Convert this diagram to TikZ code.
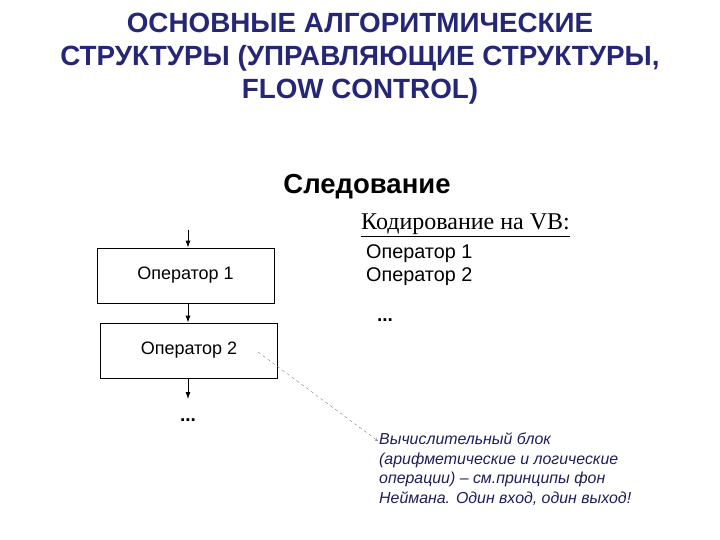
\documentclass[tikz,border=0pt]{standalone}
\usepackage{fontspec}
\setmainfont{Liberation Serif}
\setsansfont{Liberation Sans}
\usetikzlibrary{positioning,arrows.meta}
\definecolor{titleblue}{RGB}{38,38,118}
\definecolor{noteblue}{RGB}{30,30,90}
\tikzset{
  opbox/.style={draw,thick,minimum width=177pt,minimum height=55pt,font=\sffamily\fontsize{18}{20}\selectfont},
  flow/.style={-{Latex[length=7pt,width=5pt]},thick}
}

\begin{document}
\begin{tikzpicture}[x=1pt,y=-1pt]
\useasboundingbox (0,0) rectangle (720,540);
\node[align=center,text=titleblue,font=\sffamily\bfseries\fontsize{27.8}{33}\selectfont] (title) at (360,59)
  {ОСНОВНЫЕ АЛГОРИТМИЧЕСКИЕ\\СТРУКТУРЫ (УПРАВЛЯЮЩИЕ СТРУКТУРЫ,\\FLOW CONTROL)};
\node[font=\sffamily\bfseries\fontsize{27.5}{30}\selectfont] (seq) at (367,187) {Следование};
\node[font=\fontsize{24}{27}\selectfont,anchor=west,inner sep=0] (vb) at (361,225) {\underline{Кодирование на VB:}};
\node[font=\sffamily\fontsize{19.8}{23}\selectfont,align=left,anchor=north west,inner sep=0] (code) at (366,244)
  {Оператор 1\\Оператор 2};
\node[font=\sffamily\bfseries\fontsize{19}{20}\selectfont] (vbdots) at (385,320) {...};

\node[opbox] (op1) at (185.5,275.5) {Оператор 1};
\node[opbox] (op2) at (189,350.5) {Оператор 2};
\node[font=\sffamily\bfseries\fontsize{19}{20}\selectfont] (dots) at (188,420) {...};
\coordinate (in) at (188,230);
\coordinate (out) at (188,399);
\draw[flow] (in) -- (in |- op1.north);
\draw[flow] (op1.south -| in) -- (op2.north -| in);
\draw[flow] (op2.south -| in) -- (out);

\node[anchor=north west,inner sep=0,align=left,text=noteblue,
  font=\sffamily\itshape\fontsize{15.9}{19.4}\selectfont] (note) at (379,433)
  {Вычислительный блок\\(арифметические и логические\\операции) -- см.принципы фон\\Неймана. Один вход, один выход!};
\coordinate (tail) at (258,352);
\draw[gray,dashed,thin,->,>=stealth] (tail) -- (378,441);
\end{tikzpicture}
\end{document}
